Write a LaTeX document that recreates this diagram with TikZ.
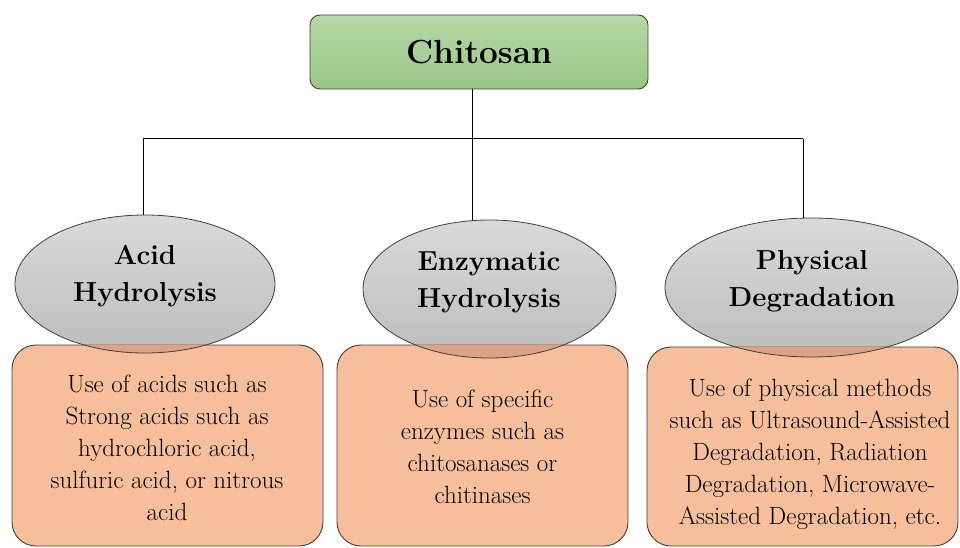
\documentclass[tikz,border=0pt]{standalone}
\usetikzlibrary{shapes.geometric}
\definecolor{boxorange}{HTML}{F6BE9A}
\definecolor{overlaporange}{HTML}{DCA384}
\definecolor{edgecol}{HTML}{3F3F3F}
\definecolor{greentop}{HTML}{B7D9A8}
\definecolor{greenbot}{HTML}{98C685}
\definecolor{graytop}{HTML}{D9D9D9}
\definecolor{graybot}{HTML}{BDBDBD}
\begin{document}
\begin{tikzpicture}[x=1pt,y=-1pt,
  edgeline/.style={draw=black, line width=1pt},
  rootbox/.style={draw=edgecol, line width=0.9pt, rounded corners=10pt, top color=greentop, bottom color=greenbot, minimum width=338pt, minimum height=74pt, inner sep=0pt, font=\fontsize{33.4}{40}\selectfont\bfseries},
  methodell/.style={ellipse, draw=edgecol, line width=0.8pt, top color=graytop, bottom color=graybot, inner sep=0pt},
  descbox/.style={draw=edgecol, line width=0.9pt, rounded corners=24pt, fill=boxorange, inner sep=0pt},
  titletext/.style={font=\fontsize{27.5}{37}\selectfont\bfseries, align=center, inner sep=0pt},
  desctext/.style={font=\fontsize{25}{32}\selectfont, align=center, inner sep=0pt},
  overlapfill/.style={fill=overlaporange},
  overlapedge/.style={draw=edgecol, line width=0.8pt}]

\useasboundingbox (0,0) rectangle (960,548);

% root
\node[rootbox] (root) at (479,52) {Chitosan};

% junction coordinates
\coordinate (jm) at (472,139);
\coordinate (jl) at (143,139);
\coordinate (jr) at (803,139);

% ellipse nodes
\node[methodell, minimum width=260pt, minimum height=138pt] (e1) at (145,284) {};
\node[methodell, minimum width=253pt, minimum height=138pt] (e2) at (489.5,289) {};
\node[methodell, minimum width=293pt, minimum height=139pt] (e3) at (811.5,287.5) {};

% connectors
\draw[edgeline] (root.south -| jm) -- (jm);
\draw[edgeline] (jl) -- (jr);
\draw[edgeline] (jl) -- (jl |- e1.north);
\draw[edgeline] (jm) -- (jm |- e2.north);
\draw[edgeline] (jr) -- (jr |- e3.north);

% description boxes
\node[descbox, minimum width=311pt, minimum height=201pt] (b1) at (167.5,445.5) {};
\node[descbox, minimum width=291pt, minimum height=201pt] (b2) at (482.5,445.5) {};
\node[descbox, minimum width=311pt, minimum height=199pt] (b3) at (802.5,446.5) {};

% overlap of ellipses with boxes
\begin{scope}
\clip[rounded corners=24pt] (b1.north west) rectangle (b1.south east);
\path[overlapfill] (e1.center) ellipse [x radius=130pt, y radius=69pt];
\path[overlapedge] (e1.center) ellipse [x radius=130pt, y radius=69pt];
\end{scope}
\begin{scope}
\clip[rounded corners=24pt] (b2.north west) rectangle (b2.south east);
\path[overlapfill] (e2.center) ellipse [x radius=126.5pt, y radius=69pt];
\path[overlapedge] (e2.center) ellipse [x radius=126.5pt, y radius=69pt];
\end{scope}
\begin{scope}
\clip[rounded corners=24pt] (b3.north west) rectangle (b3.south east);
\path[overlapfill] (e3.center) ellipse [x radius=146.5pt, y radius=69.5pt];
\path[overlapedge] (e3.center) ellipse [x radius=146.5pt, y radius=69.5pt];
\end{scope}

% titles
\node[titletext] (t1) at (145,276.6) {Acid\\Hydrolysis};
\node[titletext] (t2) at (489,282.6) {Enzymatic\\Hydrolysis};
\node[titletext] (t3) at (812,281.1) {Physical\\Degradation};

% descriptions
\node[desctext] (d1) at (167,448.3) {Use of acids such as\\Strong acids such as\\hydrochloric acid,\\sulfuric acid, or nitrous\\acid};
\node[desctext] (d2) at (482.5,447.3) {Use of specific\\enzymes such as\\chitosanases or\\chitinases};
\node[desctext] (d3) at (810,453.8) {Use of physical methods\\such as Ultrasound-Assisted\\Degradation, Radiation\\Degradation, Microwave-\\Assisted Degradation, etc.};
\end{tikzpicture}
\end{document}
